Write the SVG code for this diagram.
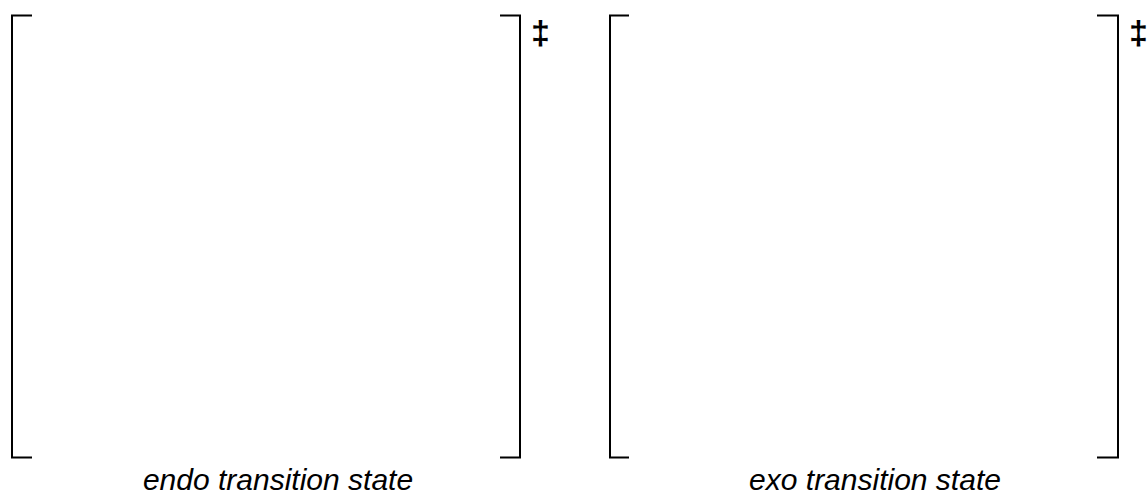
<svg xmlns="http://www.w3.org/2000/svg" width="1147" height="498" viewBox="0 0 1147 498">
<style>
.br{fill:none;stroke:#000;stroke-width:2}
.lbl{font-family:"Liberation Sans",Arial,sans-serif;font-style:italic;font-size:30px;fill:#000}
.dg{font-family:"Liberation Sans",Arial,sans-serif;font-size:34px;font-weight:bold;fill:#000}
</style>
<rect width="1147" height="498" fill="#fff"/>
<g id="endo">
<path class="br" d="M32,15.5 H12 V457.5 H32"/>
<path class="br" d="M500,15.5 H520 V457.5 H500"/>
<text class="dg" x="531" y="44">‡</text>
<text class="lbl" x="278" y="490" text-anchor="middle">endo transition state</text>
</g>
<g id="exo">
<path class="br" d="M629,15.5 H610 V457.5 H629"/>
<path class="br" d="M1097,15.5 H1118 V457.5 H1097"/>
<text class="dg" x="1129" y="44">‡</text>
<text class="lbl" x="875" y="490" text-anchor="middle">exo transition state</text>
</g>
<g id="connectors"/>
</svg>
